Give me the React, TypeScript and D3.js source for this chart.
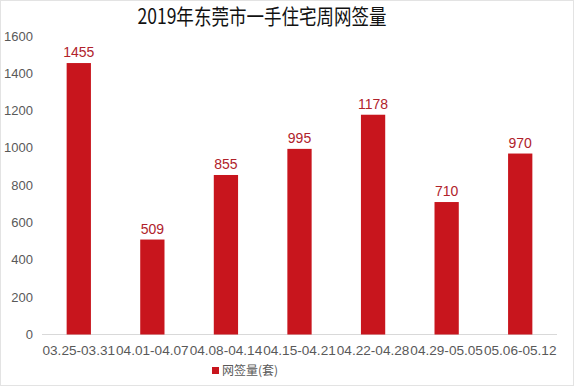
import React from "react";
import * as d3 from "d3";

const weeks = [
  "03.25-03.31",
  "04.01-04.07",
  "04.08-04.14",
  "04.15-04.21",
  "04.22-04.28",
  "04.29-05.05",
  "05.06-05.12",
];
const signed = [1455, 509, 855, 995, 1178, 710, 970];
const yTicks = [0, 200, 400, 600, 800, 1000, 1200, 1400, 1600];

const W = 576;
const H = 387;
const font = "'Liberation Sans', 'Noto Sans CJK SC', Arial, sans-serif";

export default function App() {
  const dm = { left: 42, right: 557, top: 36, bottom: 334.5 };

  const x = d3.scaleBand().domain(weeks).range([dm.left, dm.right]).paddingInner(0.67).paddingOuter(0.335);
  const band = d3.scaleBand().domain(weeks).range([dm.left, dm.right]);
  const y = d3.scaleLinear().domain([0, 1600]).range([dm.bottom, dm.top]);

  return (
    <svg width={W} height={H} style={{ position: "absolute", left: 0, top: 0, background: "#fff" }}>
      <rect x={0.5} y={0.5} width={W - 3} height={H - 2} fill="#fff" stroke="#e3e3e3" />
      <text
        x={262}
        y={24}
        textAnchor="middle"
        fontSize={21}
        fontFamily="'Noto Sans CJK SC', sans-serif"
        fill="#111"
        textLength={249}
        lengthAdjust="spacingAndGlyphs"
      >
        2019年东莞市一手住宅周网签量
      </text>

      {yTicks.map((t) => (
        <text key={t} x={33} y={y(t) + 4.5} textAnchor="end" fontSize={13} fontFamily={font} fill="#595959">
          {t}
        </text>
      ))}

      <line x1={dm.left} x2={dm.right} y1={dm.bottom} y2={dm.bottom} stroke="#d9d9d9" />

      {weeks.map((w, i) => (
        <g key={w}>
          <rect x={x(w)} y={y(signed[i])} width={x.bandwidth()} height={dm.bottom - y(signed[i])} fill="#c8151d" />
          <text
            x={(x(w) as number) + x.bandwidth() / 2}
            y={y(signed[i]) - 6}
            textAnchor="middle"
            fontSize={14}
            fontFamily={font}
            fill="#b0222b"
          >
            {signed[i]}
          </text>
          <text
            x={(band(w) as number) + band.bandwidth() / 2}
            y={355}
            textAnchor="middle"
            fontSize={13}
            fontFamily={font}
            fill="#595959"
            textLength={band.bandwidth() - 1}
            lengthAdjust="spacingAndGlyphs"
          >
            {w}
          </text>
        </g>
      ))}

      <rect x={212} y={367} width={7} height={7} fill="#c8151d" />
      <text x={222} y={375} fontSize={12} fontFamily="'Noto Sans CJK SC', sans-serif" fill="#595959">
        网签量(套)
      </text>
    </svg>
  );
}
